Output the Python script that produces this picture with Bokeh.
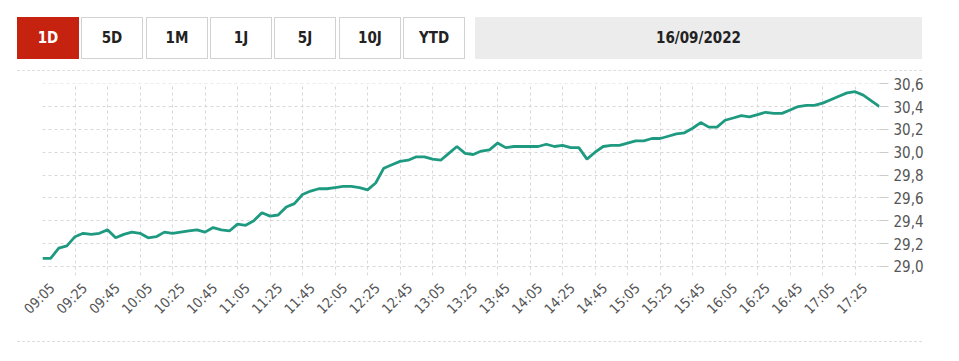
import math
from bokeh.plotting import figure
from bokeh.models import Range1d, FixedTicker, CustomJSTickFormatter, LinearAxis, Div, Grid
from bokeh.layouts import column
from bokeh.embed import file_html
from bokeh.resources import INLINE

# ---- data ----
prices = [
    29.07, 29.07, 29.16, 29.18, 29.26, 29.29, 29.28, 29.29, 29.32, 29.25,
    29.28, 29.30, 29.29, 29.25, 29.26, 29.30, 29.29, 29.30, 29.31, 29.32,
    29.30, 29.34, 29.32, 29.31, 29.37, 29.36, 29.40, 29.47, 29.44, 29.45,
    29.52, 29.55, 29.63, 29.66, 29.68, 29.68, 29.69, 29.70, 29.70, 29.69,
    29.67, 29.73, 29.86, 29.89, 29.92, 29.93, 29.96, 29.96, 29.94, 29.93,
    29.99, 30.05, 29.99, 29.98, 30.01, 30.02, 30.08, 30.04, 30.05, 30.05,
    30.05, 30.05, 30.07, 30.05, 30.06, 30.04, 30.04, 29.94, 30.00, 30.05,
    30.06, 30.06, 30.08, 30.10, 30.10, 30.12, 30.12, 30.14, 30.16, 30.17,
    30.21, 30.26, 30.22, 30.22, 30.28, 30.30, 30.32, 30.31, 30.33, 30.35,
    30.34, 30.34, 30.37, 30.40, 30.41, 30.41, 30.43, 30.46, 30.49, 30.52,
    30.53, 30.50, 30.45, 30.40,
]
time_labels = ["09:05", "09:25", "09:45", "10:05", "10:25", "10:45", "11:05",
               "11:25", "11:45", "12:05", "12:25", "12:45", "13:05", "13:25",
               "13:45", "14:05", "14:25", "14:45", "15:05", "15:25", "15:45",
               "16:05", "16:25", "16:45", "17:05", "17:25"]
points_per_label = 4
y_ticks = [29.0, 29.2, 29.4, 29.6, 29.8, 30.0, 30.2, 30.4, 30.6]
buttons = ["1D", "5D", "1M", "1J", "5J", "10J", "YTD"]
date_text = "16/09/2022"

FONT = "'DejaVu Sans Condensed', 'Liberation Sans Narrow', Roboto, sans-serif"
W = 959

# ---- header (buttons + date) as HTML ----
parts = []
for k, lab in enumerate(buttons):
    left = round(17 + k * 64.33)
    if k == 0:
        st = "background:#c5230f;border:1px solid #c5230f;color:#ffffff;"
    else:
        st = "background:#ffffff;border:1px solid #d2d2d2;color:#222222;"
    parts.append(
        f'<div style="position:absolute;left:{left}px;top:17px;width:62px;height:42px;'
        f'box-sizing:border-box;{st}text-align:center;line-height:40px;">{lab}</div>')
parts.append(
    '<div style="position:absolute;left:475px;top:17px;width:447px;height:42px;'
    'background:#ececec;color:#222222;text-align:center;line-height:42px;">'
    f'{date_text}</div>')
parts.append('<div style="position:absolute;left:17px;top:70px;width:905px;height:0;'
             'border-top:1px dashed #dddddd;"></div>')
header_html = (f'<div style="position:relative;width:{W}px;height:72px;font-family:{FONT};'
               'font-weight:bold;font-size:15px;">' + "".join(parts) + "</div>")
hdr = Div(text=header_html, width=W, height=72, margin=0)

# ---- chart ----
xs = list(range(len(prices)))
n = len(prices) - 1
p = figure(width=W, height=263, output_backend="svg", toolbar_location=None,
           x_range=Range1d(0, n), y_range=Range1d(28.92, 30.602),
           min_border_left=42, min_border_right=80, min_border_top=11,
           min_border_bottom=60, y_axis_location="right", x_axis_type=None)
p.outline_line_color = None

tick_pos = [k * points_per_label for k in range(len(time_labels))]
vgrid = Grid(dimension=0, ticker=FixedTicker(ticks=tick_pos),
             grid_line_color="#d8d8d8", grid_line_dash="3 3")
p.add_layout(vgrid)

p.line(xs, prices, line_color="#1e9a80", line_width=2.8)

shift = 1.2
p.extra_x_ranges = {"lab": Range1d(-shift, n - shift)}
xa = LinearAxis(x_range_name="lab", ticker=FixedTicker(ticks=tick_pos))
xa.major_label_overrides = {t: lab for t, lab in zip(tick_pos, time_labels)}
xa.major_label_orientation = math.pi / 4
xa.axis_line_color = None
xa.major_tick_line_color = None
xa.minor_tick_line_color = None
xa.major_label_text_font = FONT
xa.major_label_text_font_size = "14px"
xa.major_label_text_color = "#555555"
xa.major_label_standoff = 4
p.add_layout(xa, "below")

p.yaxis.ticker = FixedTicker(ticks=y_ticks)
p.yaxis.formatter = CustomJSTickFormatter(code="return tick.toFixed(1).replace('.', ',');")
p.yaxis.axis_line_color = None
p.yaxis.major_tick_line_color = "#cccccc"
p.yaxis.major_tick_out = 9
p.yaxis.major_tick_in = 0
p.yaxis.minor_tick_line_color = None
p.yaxis.major_label_text_font = FONT
p.yaxis.major_label_text_font_size = "15px"
p.yaxis.major_label_text_color = "#555555"
p.yaxis.major_label_standoff = 5

p.ygrid.grid_line_color = "#d8d8d8"
p.ygrid.grid_line_dash = "3 3"

# ---- footer separator ----
ftr = Div(text='<div style="position:relative;width:959px;height:12px;">'
               '<div style="position:absolute;left:17px;top:6px;width:905px;height:0;'
               'border-top:1px dashed #dddddd;"></div></div>',
          width=W, height=12, margin=0)

layout = column(hdr, p, ftr, spacing=0)
open("out.html", "w").write(file_html(layout, INLINE))
